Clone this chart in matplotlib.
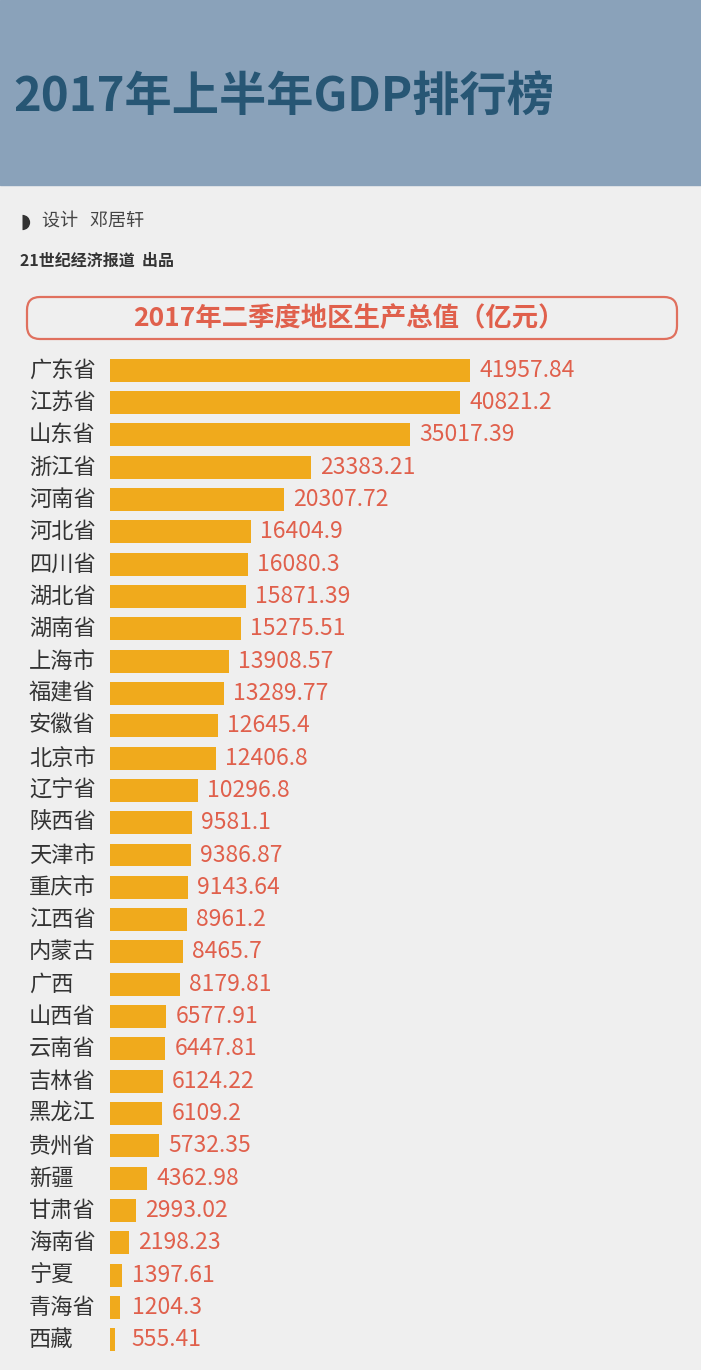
import matplotlib
matplotlib.use("Agg")
import matplotlib.pyplot as plt
from matplotlib.patches import Rectangle, FancyBboxPatch
from matplotlib.lines import Line2D
from matplotlib.transforms import blended_transform_factory, IdentityTransform

plt.rcParams["font.family"] = ["Noto Sans CJK SC", "DejaVu Sans"]

TITLE = "2017年上半年GDP排行榜"
DESIGN = "设计   邓居轩"
SOURCE = "21世纪经济报道  出品"
SUBTITLE = "2017年二季度地区生产总值（亿元）"

regions = ["广东省", "江苏省", "山东省", "浙江省", "河南省", "河北省", "四川省", "湖北省",
           "湖南省", "上海市", "福建省", "安徽省", "北京市", "辽宁省", "陕西省", "天津市",
           "重庆市", "江西省", "内蒙古", "广西", "山西省", "云南省", "吉林省", "黑龙江",
           "贵州省", "新疆", "甘肃省", "海南省", "宁夏", "青海省", "西藏"]
gdp = [41957.84, 40821.2, 35017.39, 23383.21, 20307.72, 16404.9, 16080.3, 15871.39,
       15275.51, 13908.57, 13289.77, 12645.4, 12406.8, 10296.8, 9581.1, 9386.87,
       9143.64, 8961.2, 8465.7, 8179.81, 6577.91, 6447.81, 6124.22, 6109.2,
       5732.35, 4362.98, 2993.02, 2198.23, 1397.61, 1204.3, 555.41]

W, H = 701, 1370
BG = "#efefef"
HEADER = "#8aa2ba"
TITLE_C = "#275674"
BAR_C = "#f0aa1c"
NUM_C = "#e0604c"


def fx(px):
    return px / W


def fy(py):
    return 1 - py / H


fig = plt.figure(figsize=(W / 100, H / 100), dpi=100, facecolor=BG)

# header band
fig.patches.append(Rectangle((0, fy(185)), 1, 185 / H, transform=fig.transFigure,
                             color=HEADER, zorder=0))
fig.text(fx(13), fy(97), TITLE, fontsize=34, weight="bold", color=TITLE_C,
         ha="left", va="center")

# credits
fig.add_artist(Line2D([fx(22)], [fy(222)], marker="o", ms=11, fillstyle="right",
                      markerfacecoloralt="none", mec="none", color="#333333",
                      transform=fig.transFigure))
fig.text(fx(42), fy(222), DESIGN, fontsize=13, color="#444444", ha="left", va="center")
fig.text(fx(20), fy(261), SOURCE, fontsize=11.5, weight="bold", color="#333333",
         ha="left", va="center")

# rounded subtitle box
fig.add_artist(FancyBboxPatch((27, H - 339), 650, 42,
                              boxstyle="round,pad=0,rounding_size=13",
                              transform=IdentityTransform(), facecolor="none",
                              edgecolor="#e0705e", lw=1.6))
fig.text(fx(349), fy(318), SUBTITLE, fontsize=19, weight="bold", color=NUM_C,
         ha="center", va="center")

# bars
ax = fig.add_axes([fx(110), fy(1356), fx(590), (1356 - 354) / H])
ax.set_facecolor("none")
n = len(regions)
ax.barh(range(n), gdp, height=0.71, color=BAR_C, left=0)
ax.set_xlim(0, gdp[0] * 590 / 360)
ax.set_ylim(n - 0.5, -0.5)
ax.axis("off")

trans = blended_transform_factory(fig.transFigure, ax.transData)
for i, (name, v) in enumerate(zip(regions, gdp)):
    ax.text(fx(29), i, name, transform=trans, fontsize=16, color="#333333",
            ha="left", va="center")
    ax.annotate(str(v), xy=(max(v, 1500), i), xytext=(9, 0), textcoords="offset pixels",
                fontsize=16.5, color=NUM_C, ha="left", va="center")

fig.savefig("out.png", dpi=100, facecolor=BG)
